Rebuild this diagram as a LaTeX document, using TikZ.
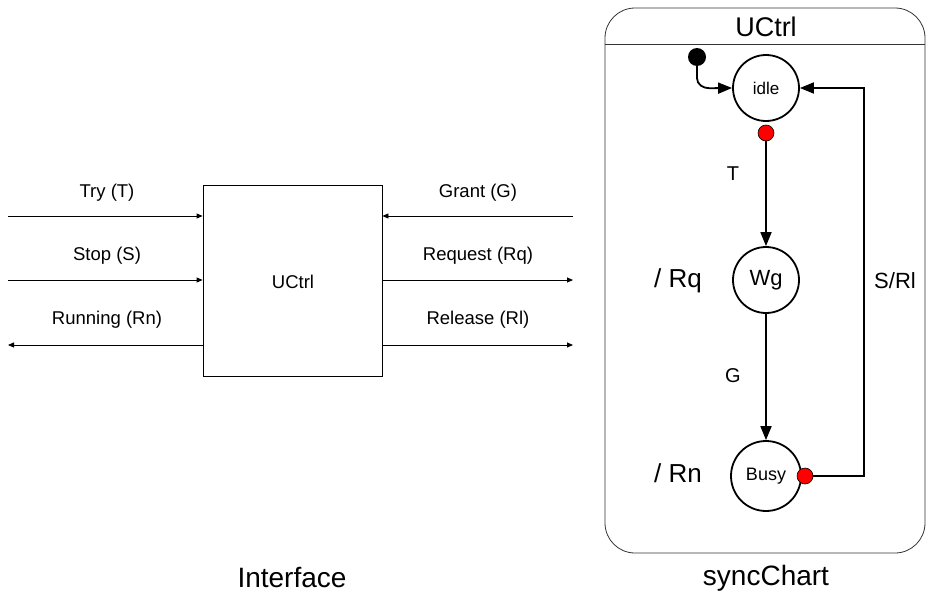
\documentclass[tikz,border=0pt]{standalone}
\usepackage{fontspec}
\setmainfont{Liberation Sans}
\usetikzlibrary{arrows.meta}
\begin{document}
\begin{tikzpicture}[x=1pt,y=-1pt,
  sig/.style={line width=0.8pt,-{Triangle[length=6pt,width=5pt]}},
  lbl/.style={font=\fontsize{18.5}{21}\selectfont},
  big/.style={font=\fontsize{28}{32}\selectfont},
  act/.style={font=\fontsize{26}{30}\selectfont},
  trl/.style={font=\fontsize{20}{24}\selectfont},
  state/.style={circle,draw,line width=1.8pt,minimum size=66pt,inner sep=0pt},
  trans/.style={line width=1.8pt,-{Triangle[length=14pt,width=11pt]}},
  reddot/.style={circle,fill=red,draw=black,line width=0.6pt,minimum size=16pt,inner sep=0pt},
  blackdot/.style={circle,fill=black,minimum size=18pt,inner sep=0pt}]
\useasboundingbox (0,0) rectangle (927,597);
% Interface
\node[draw,line width=0.8pt,minimum width=179pt,minimum height=191pt,inner sep=0pt] (box) at (292.5,280.5) {};
\node[lbl] (boxlbl) at (293,282) {UCtrl};
\coordinate (tin) at (8,216);
\coordinate (sin) at (8,280);
\coordinate (rout) at (8,345);
\coordinate (gin) at (573,216);
\coordinate (rqout) at (573,280);
\coordinate (rlout) at (573,345);
\draw[sig] (tin) -- (tin -| box.west);
\draw[sig] (sin) -- (sin -| box.west);
\draw[sig] (rout -| box.west) -- (rout);
\draw[sig] (gin) -- (gin -| box.east);
\draw[sig] (rqout -| box.east) -- (rqout);
\draw[sig] (rlout -| box.east) -- (rlout);
\node[lbl] (l1) at (107,193) {Try (T)};
\node[lbl] (l2) at (107,256) {Stop (S)};
\node[lbl] (l3) at (107,320) {Running (Rn)};
\node[lbl] (l4) at (478,193) {Grant (G)};
\node[lbl] (l5) at (478,256) {Request (Rq)};
\node[lbl] (l6) at (478,320) {Release (Rl)};
\node[big] (iface) at (292,578) {Interface};
% syncChart
\draw[line width=0.8pt,draw=black!80,rounded corners=30pt] (605,8) rectangle (925,553);
\draw[line width=0.8pt,draw=black!80] (605,44) -- (925,44);
\node[font=\fontsize{27}{30}\selectfont] (title) at (766,27) {UCtrl};
\node[state,font=\fontsize{17}{20}\selectfont] (idle) at (766,88) {idle};
\node[state,font=\fontsize{22}{26}\selectfont] (wg) at (766,280) {Wg};
\node[state,minimum size=70pt,font=\fontsize{18}{21}\selectfont] (busy) at (766,476) {Busy};
\node[reddot] (rd1) at (766,133) {};
\node[reddot] (rd2) at (805,476) {};
\node[blackdot] (init) at (697,57) {};
\draw[trans] (init.south) -- ++(0,12) to[out=-90,in=180] ++(12,10) -- (idle.west);
\draw[trans] (rd1) -- (wg.north);
\draw[trans] (wg.south) -- (busy.north);
\coordinate (c1) at (864,476);
\coordinate (c2) at (864,88);
\draw[trans] (rd2) -- (c1) -- (c2) -- (idle.east);
\node[trl] (tl) at (733,174) {T};
\node[trl] (gl) at (733,376) {G};
\node[font=\fontsize{22}{26}\selectfont] (sl) at (895,281) {S/Rl};
\node[act] (rq) at (678,281) {/ Rq};
\node[act] (rn) at (678,473) {/ Rn};
\node[big] (sc) at (766,578) {syncChart};
\end{tikzpicture}
\end{document}
